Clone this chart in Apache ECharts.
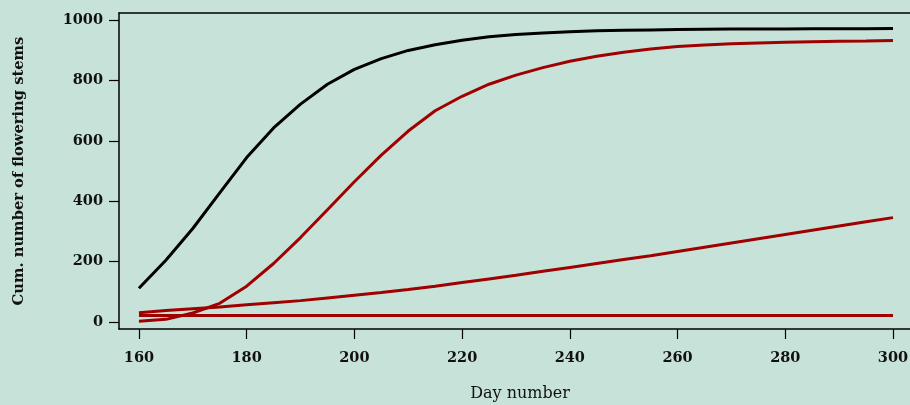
<!DOCTYPE html>
<html>
<head>
<meta charset="utf-8">
<script src="https://cdn.jsdelivr.net/npm/echarts@6/dist/echarts.min.js"></script>
<style>
  html, body { margin: 0; padding: 0; background: #c7e3d9; }
  #chart { width: 910px; height: 405px; }
</style>
</head>
<body>
<div id="chart"></div>
<script>
// Day of year for each observation
const days = [160, 165, 170, 175, 180, 185, 190, 195, 200, 205, 210, 215, 220, 225, 230,
              235, 240, 245, 250, 255, 260, 265, 270, 275, 280, 285, 290, 295, 300];

// Cumulative number of flowering stems, all stems
const totalStems = [112, 205, 310, 428, 545, 643, 722, 788, 837, 873, 900, 919, 934, 945, 953,
                    958, 962, 965, 967, 968, 969, 970, 971, 971, 971, 972, 972, 972, 973];

// Component curves
const lateStems = [3, 9, 30, 62, 119, 194, 280, 372, 465, 553, 633, 700, 748, 788, 818,
                   843, 864, 881, 894, 905, 913, 918, 922, 925, 927, 929, 930, 931, 933];

const slowStems = [31, 38, 44, 50, 57, 64, 71, 80, 89, 98, 108, 119, 131, 143, 155,
                   168, 181, 194, 207, 220, 234, 248, 262, 276, 290, 304, 318, 332, 346];

const flatStems = [22, 22, 22, 22, 22, 22, 22, 22, 22, 22, 22, 22, 22, 22, 22,
                   22, 22, 22, 22, 22, 22, 22, 22, 22, 22, 22, 22, 22, 22];

// Tick labels
const xTicks = [160, 180, 200, 220, 240, 260, 280, 300];
const yTicks = [0, 200, 400, 600, 800, 1000];

const pairs = vals => days.map((d, i) => [d, vals[i]]);

const SERIF = '"DejaVu Serif", serif';
const tickFont = { fontFamily: SERIF, fontWeight: 'bold', fontSize: 14.5, color: '#111',
                   formatter: v => String(v) };
const RED = '#a00000';

const chart = echarts.init(document.getElementById('chart'), null, { renderer: 'canvas' });

const lineSeries = (name, vals, color) => ({
  name, type: 'line', data: pairs(vals), showSymbol: false, symbol: 'none',
  lineStyle: { color, width: 3 }, animation: false, z: 3
});

chart.setOption({
  backgroundColor: '#c7e3d9',
  animation: false,
  grid: { left: 119, top: 13, right: -11, bottom: 76, containLabel: false, outerBoundsMode: 'none' },
  xAxis: [{
    type: 'value', min: 156.3, max: 305.2, position: 'bottom',
    name: 'Day number', nameLocation: 'middle', nameGap: 57,
    nameTextStyle: { fontFamily: SERIF, fontSize: 16, color: '#111' },
    axisLine: { show: true, onZero: false, lineStyle: { color: '#000', width: 1.5 } },
    axisTick: { show: true, length: 10, customValues: xTicks, lineStyle: { color: '#000', width: 1.2 } },
    axisLabel: { customValues: xTicks, margin: 22, ...tickFont },
    splitLine: { show: false }
  }, {
    type: 'value', min: 156.3, max: 305.2, position: 'top',
    axisLine: { show: true, onZero: false, lineStyle: { color: '#000', width: 1.5 } },
    axisTick: { show: false }, axisLabel: { show: false }, splitLine: { show: false }
  }],
  yAxis: {
    type: 'value', min: -23, max: 1024,
    name: 'Cum. number of flowering stems', nameLocation: 'middle', nameGap: 92, nameRotate: 90,
    nameTextStyle: { fontFamily: SERIF, fontWeight: 'bold', fontSize: 14.7, color: '#111' },
    axisLine: { show: true, onZero: false, lineStyle: { color: '#000', width: 1.5 } },
    axisTick: { show: true, length: 10, customValues: yTicks, lineStyle: { color: '#000', width: 1.2 } },
    axisLabel: { customValues: yTicks, margin: 16, ...tickFont },
    splitLine: { show: false }
  },
  series: [
    lineSeries('flat', flatStems, RED),
    lineSeries('slow', slowStems, RED),
    lineSeries('late', lateStems, RED),
    lineSeries('total', totalStems, '#000')
  ]
});
</script>
</body>
</html>
